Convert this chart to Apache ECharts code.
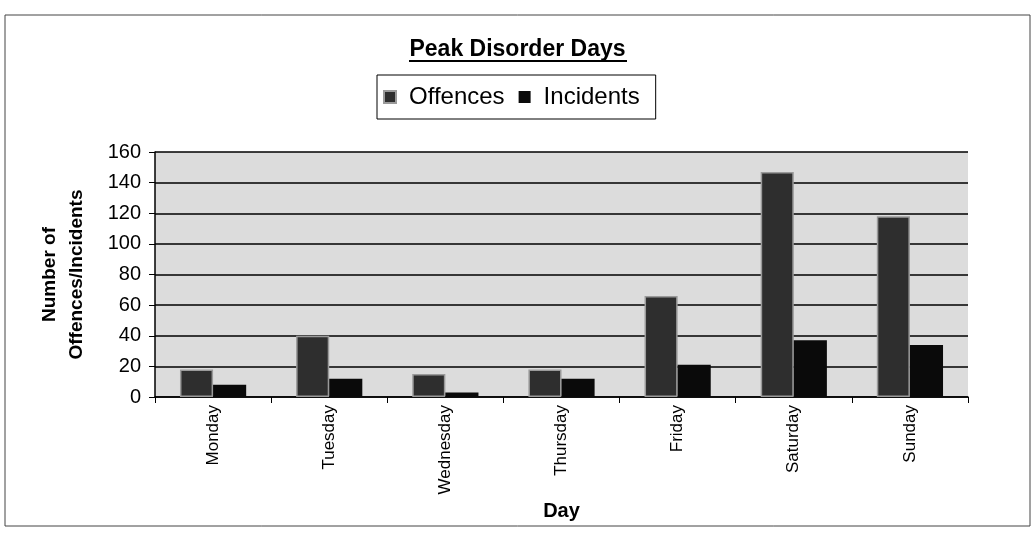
<!DOCTYPE html>
<html><head><meta charset="utf-8">
<script src="https://cdn.jsdelivr.net/npm/echarts@6/dist/echarts.min.js"></script>
<style>html,body{margin:0;padding:0;background:#fff}#c{width:1035px;height:533px}</style>
</head><body><div id="c"></div>
<script>
var categories = ['Monday','Tuesday','Wednesday','Thursday','Friday','Saturday','Sunday'];
var offences = [18, 40, 15, 18, 66, 147, 118];
var incidents = [8, 12, 3, 12, 21, 37, 34];
var yTicks = [0, 20, 40, 60, 80, 100, 120, 140, 160];

var ff = '"Liberation Sans", Arial, sans-serif';
var chart = echarts.init(document.getElementById('c'));
chart.setOption({
  animation: false,
  backgroundColor: '#fff',
  title: {
    text: 'Peak Disorder Days', left: 'center', top: 33,
    textStyle: {fontFamily: ff, fontSize: 23, fontWeight: 'bold', color: '#000'}
  },
  legend: {
    data: ['Offences', 'Incidents'], left: 377, top: 75,
    itemWidth: 12, itemHeight: 12, itemGap: 14,
    borderColor: '#000', borderWidth: 1, padding: [10, 16, 10, 6],
    textStyle: {fontFamily: ff, fontSize: 24, color: '#000', padding: [0, 0, 0, 8]},
    icon: 'rect'
  },
  graphic: [
    {type: 'rect', shape: {x: 5, y: 15, width: 1025, height: 511}, style: {fill: 'none', stroke: '#444', lineWidth: 1}, silent: true},
    {type: 'line', shape: {x1: 409, y1: 61, x2: 627, y2: 61}, style: {stroke: '#000', lineWidth: 2}, silent: true}
  ],
  grid: {left: 155, right: 67, top: 152, bottom: 136, show: true, backgroundColor: '#dcdcdc', borderWidth: 0},
  xAxis: {
    type: 'category', data: categories,
    name: 'Day', nameLocation: 'middle', nameGap: 104,
    nameTextStyle: {fontFamily: ff, fontSize: 20, fontWeight: 'bold', color: '#000'},
    axisLine: {lineStyle: {color: '#000', width: 1.5}},
    axisTick: {show: true, length: 6, lineStyle: {color: '#000'}},
    axisLabel: {rotate: 90, fontFamily: ff, fontSize: 17, color: '#000', margin: 8}
  },
  yAxis: {
    type: 'value', min: 0, max: 160, interval: 20,
    name: 'Number of\nOffences/Incidents', nameLocation: 'middle', nameGap: 65, nameRotate: 90,
    nameTextStyle: {fontFamily: ff, fontSize: 19, fontWeight: 'bold', color: '#000', lineHeight: 27},
    axisLine: {show: true, lineStyle: {color: '#000', width: 1.5}},
    axisTick: {show: true, length: 6, lineStyle: {color: '#000'}},
    axisLabel: {fontFamily: ff, fontSize: 20, color: '#000', margin: 14,
      formatter: function (v) { return yTicks.indexOf(v) >= 0 ? String(v) : ''; }},
    splitLine: {show: true, lineStyle: {color: '#000', width: 1.5}}
  },
  series: [
    {name: 'Offences', type: 'bar', data: offences, barGap: '0%', barCategoryGap: '43%',
     itemStyle: {color: '#2e2e2e', borderColor: '#9a9a9a', borderWidth: 1.5}},
    {name: 'Incidents', type: 'bar', data: incidents,
     itemStyle: {color: '#0a0a0a'}}
  ]
});
</script></body></html>
